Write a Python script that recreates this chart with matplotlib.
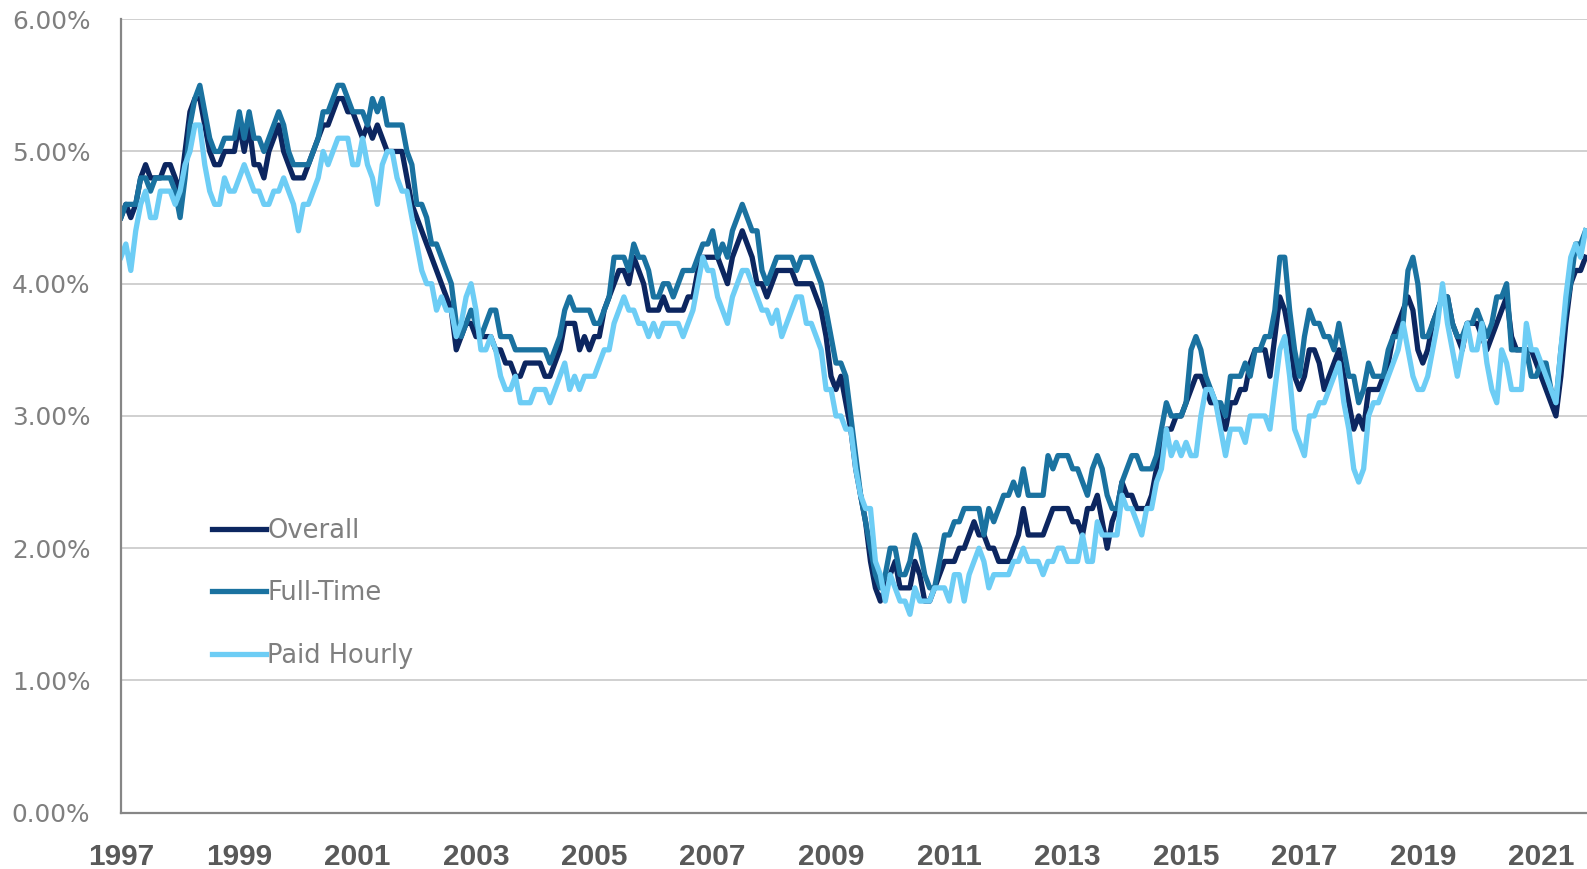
import matplotlib
matplotlib.use('Agg')
import matplotlib.pyplot as plt
import numpy as np
from matplotlib.ticker import PercentFormatter

# monthly 3-month moving average, Jan 1997 - Oct 2021 (percent)
overall = [
    4.5, 4.6, 4.5, 4.6, 4.8, 4.9, 4.8, 4.8, 4.8, 4.9, 4.9, 4.8,
    4.7, 5.0, 5.3, 5.4, 5.4, 5.2, 5.0, 4.9, 4.9, 5.0, 5.0, 5.0,
    5.2, 5.0, 5.2, 4.9, 4.9, 4.8, 5.0, 5.1, 5.2, 5.0, 4.9, 4.8,
    4.8, 4.8, 4.9, 5.0, 5.1, 5.2, 5.2, 5.3, 5.4, 5.4, 5.3, 5.3,
    5.2, 5.1, 5.2, 5.1, 5.2, 5.1, 5.0, 5.0, 5.0, 5.0, 4.8, 4.6,
    4.5, 4.4, 4.3, 4.2, 4.1, 4.0, 3.9, 3.8, 3.5, 3.6, 3.7, 3.7,
    3.6, 3.6, 3.6, 3.6, 3.5, 3.5, 3.4, 3.4, 3.3, 3.3, 3.4, 3.4,
    3.4, 3.4, 3.3, 3.3, 3.4, 3.5, 3.7, 3.7, 3.7, 3.5, 3.6, 3.5,
    3.6, 3.6, 3.8, 3.9, 4.0, 4.1, 4.1, 4.0, 4.2, 4.1, 4.0, 3.8,
    3.8, 3.8, 3.9, 3.8, 3.8, 3.8, 3.8, 3.9, 3.9, 4.1, 4.2, 4.2,
    4.2, 4.2, 4.1, 4.0, 4.2, 4.3, 4.4, 4.3, 4.2, 4.0, 4.0, 3.9,
    4.0, 4.1, 4.1, 4.1, 4.1, 4.0, 4.0, 4.0, 4.0, 3.9, 3.8, 3.6,
    3.3, 3.2, 3.3, 3.1, 2.9, 2.6, 2.4, 2.2, 1.9, 1.7, 1.6, 1.7,
    1.8, 1.9, 1.7, 1.7, 1.7, 1.9, 1.8, 1.6, 1.6, 1.7, 1.8, 1.9,
    1.9, 1.9, 2.0, 2.0, 2.1, 2.2, 2.1, 2.1, 2.0, 2.0, 1.9, 1.9,
    1.9, 2.0, 2.1, 2.3, 2.1, 2.1, 2.1, 2.1, 2.2, 2.3, 2.3, 2.3,
    2.3, 2.2, 2.2, 2.1, 2.3, 2.3, 2.4, 2.2, 2.0, 2.2, 2.3, 2.5,
    2.4, 2.4, 2.3, 2.3, 2.3, 2.4, 2.6, 2.8, 2.9, 2.9, 3.0, 3.0,
    3.1, 3.2, 3.3, 3.3, 3.2, 3.1, 3.1, 3.0, 2.9, 3.1, 3.1, 3.2,
    3.2, 3.4, 3.5, 3.5, 3.5, 3.3, 3.6, 3.9, 3.8, 3.6, 3.3, 3.2,
    3.3, 3.5, 3.5, 3.4, 3.2, 3.3, 3.4, 3.5, 3.3, 3.1, 2.9, 3.0,
    2.9, 3.2, 3.2, 3.2, 3.3, 3.4, 3.6, 3.7, 3.8, 3.9, 3.8, 3.5,
    3.4, 3.5, 3.7, 3.8, 3.9, 3.9, 3.7, 3.6, 3.5, 3.7, 3.7, 3.7,
    3.6, 3.5, 3.6, 3.7, 3.8, 3.9, 3.6, 3.5, 3.5, 3.5, 3.5, 3.4,
    3.3, 3.2, 3.1, 3.0, 3.3, 3.7, 4.0, 4.1, 4.1, 4.2,
]

full_time = [
    4.5, 4.6, 4.6, 4.6, 4.8, 4.8, 4.7, 4.8, 4.8, 4.8, 4.8, 4.7,
    4.5, 4.8, 5.2, 5.4, 5.5, 5.3, 5.1, 5.0, 5.0, 5.1, 5.1, 5.1,
    5.3, 5.1, 5.3, 5.1, 5.1, 5.0, 5.1, 5.2, 5.3, 5.2, 5.0, 4.9,
    4.9, 4.9, 4.9, 5.0, 5.1, 5.3, 5.3, 5.4, 5.5, 5.5, 5.4, 5.3,
    5.3, 5.3, 5.2, 5.4, 5.3, 5.4, 5.2, 5.2, 5.2, 5.2, 5.0, 4.9,
    4.6, 4.6, 4.5, 4.3, 4.3, 4.2, 4.1, 4.0, 3.7, 3.6, 3.7, 3.8,
    3.7, 3.6, 3.7, 3.8, 3.8, 3.6, 3.6, 3.6, 3.5, 3.5, 3.5, 3.5,
    3.5, 3.5, 3.5, 3.4, 3.5, 3.6, 3.8, 3.9, 3.8, 3.8, 3.8, 3.8,
    3.7, 3.7, 3.8, 3.9, 4.2, 4.2, 4.2, 4.1, 4.3, 4.2, 4.2, 4.1,
    3.9, 3.9, 4.0, 4.0, 3.9, 4.0, 4.1, 4.1, 4.1, 4.2, 4.3, 4.3,
    4.4, 4.2, 4.3, 4.2, 4.4, 4.5, 4.6, 4.5, 4.4, 4.4, 4.1, 4.0,
    4.1, 4.2, 4.2, 4.2, 4.2, 4.1, 4.2, 4.2, 4.2, 4.1, 4.0, 3.8,
    3.6, 3.4, 3.4, 3.3, 3.0, 2.7, 2.4, 2.2, 2.0, 1.8, 1.7, 1.8,
    2.0, 2.0, 1.8, 1.8, 1.9, 2.1, 2.0, 1.8, 1.7, 1.7, 1.9, 2.1,
    2.1, 2.2, 2.2, 2.3, 2.3, 2.3, 2.3, 2.1, 2.3, 2.2, 2.3, 2.4,
    2.4, 2.5, 2.4, 2.6, 2.4, 2.4, 2.4, 2.4, 2.7, 2.6, 2.7, 2.7,
    2.7, 2.6, 2.6, 2.5, 2.4, 2.6, 2.7, 2.6, 2.4, 2.3, 2.3, 2.5,
    2.6, 2.7, 2.7, 2.6, 2.6, 2.6, 2.7, 2.9, 3.1, 3.0, 3.0, 3.0,
    3.1, 3.5, 3.6, 3.5, 3.3, 3.2, 3.1, 3.1, 3.0, 3.3, 3.3, 3.3,
    3.4, 3.3, 3.5, 3.5, 3.6, 3.6, 3.8, 4.2, 4.2, 3.8, 3.5, 3.3,
    3.6, 3.8, 3.7, 3.7, 3.6, 3.6, 3.5, 3.7, 3.5, 3.3, 3.3, 3.1,
    3.2, 3.4, 3.3, 3.3, 3.3, 3.5, 3.6, 3.6, 3.7, 4.1, 4.2, 4.0,
    3.6, 3.6, 3.7, 3.8, 3.9, 3.9, 3.7, 3.6, 3.6, 3.7, 3.7, 3.8,
    3.7, 3.6, 3.7, 3.9, 3.9, 4.0, 3.5, 3.5, 3.5, 3.5, 3.3, 3.3,
    3.4, 3.4, 3.2, 3.1, 3.5, 3.8, 4.0, 4.3, 4.3, 4.4,
]

paid_hourly = [
    4.2, 4.3, 4.1, 4.4, 4.6, 4.7, 4.5, 4.5, 4.7, 4.7, 4.7, 4.6,
    4.7, 4.9, 5.0, 5.2, 5.2, 4.9, 4.7, 4.6, 4.6, 4.8, 4.7, 4.7,
    4.8, 4.9, 4.8, 4.7, 4.7, 4.6, 4.6, 4.7, 4.7, 4.8, 4.7, 4.6,
    4.4, 4.6, 4.6, 4.7, 4.8, 5.0, 4.9, 5.0, 5.1, 5.1, 5.1, 4.9,
    4.9, 5.1, 4.9, 4.8, 4.6, 4.9, 5.0, 5.0, 4.8, 4.7, 4.7, 4.5,
    4.3, 4.1, 4.0, 4.0, 3.8, 3.9, 3.8, 3.8, 3.6, 3.7, 3.9, 4.0,
    3.8, 3.5, 3.5, 3.6, 3.5, 3.3, 3.2, 3.2, 3.3, 3.1, 3.1, 3.1,
    3.2, 3.2, 3.2, 3.1, 3.2, 3.3, 3.4, 3.2, 3.3, 3.2, 3.3, 3.3,
    3.3, 3.4, 3.5, 3.5, 3.7, 3.8, 3.9, 3.8, 3.8, 3.7, 3.7, 3.6,
    3.7, 3.6, 3.7, 3.7, 3.7, 3.7, 3.6, 3.7, 3.8, 4.0, 4.2, 4.1,
    4.1, 3.9, 3.8, 3.7, 3.9, 4.0, 4.1, 4.1, 4.0, 3.9, 3.8, 3.8,
    3.7, 3.8, 3.6, 3.7, 3.8, 3.9, 3.9, 3.7, 3.7, 3.6, 3.5, 3.2,
    3.2, 3.0, 3.0, 2.9, 2.9, 2.6, 2.4, 2.3, 2.3, 1.9, 1.8, 1.6,
    1.8, 1.7, 1.6, 1.6, 1.5, 1.7, 1.6, 1.6, 1.6, 1.7, 1.7, 1.7,
    1.6, 1.8, 1.8, 1.6, 1.8, 1.9, 2.0, 1.9, 1.7, 1.8, 1.8, 1.8,
    1.8, 1.9, 1.9, 2.0, 1.9, 1.9, 1.9, 1.8, 1.9, 1.9, 2.0, 2.0,
    1.9, 1.9, 1.9, 2.1, 1.9, 1.9, 2.2, 2.1, 2.1, 2.1, 2.1, 2.4,
    2.3, 2.3, 2.2, 2.1, 2.3, 2.3, 2.5, 2.6, 2.9, 2.7, 2.8, 2.7,
    2.8, 2.7, 2.7, 3.0, 3.2, 3.2, 3.1, 2.9, 2.7, 2.9, 2.9, 2.9,
    2.8, 3.0, 3.0, 3.0, 3.0, 2.9, 3.2, 3.5, 3.6, 3.3, 2.9, 2.8,
    2.7, 3.0, 3.0, 3.1, 3.1, 3.2, 3.3, 3.4, 3.1, 2.9, 2.6, 2.5,
    2.6, 3.0, 3.1, 3.1, 3.2, 3.3, 3.4, 3.5, 3.7, 3.5, 3.3, 3.2,
    3.2, 3.3, 3.5, 3.7, 4.0, 3.7, 3.5, 3.3, 3.5, 3.7, 3.5, 3.5,
    3.7, 3.4, 3.2, 3.1, 3.5, 3.4, 3.2, 3.2, 3.2, 3.7, 3.5, 3.5,
    3.4, 3.3, 3.2, 3.1, 3.5, 3.9, 4.2, 4.3, 4.2, 4.4,
]

years = ['1997', '1999', '2001', '2003', '2005', '2007', '2009',
         '2011', '2013', '2015', '2017', '2019', '2021']

fig = plt.figure(figsize=(15.87, 8.69), dpi=100)
ax = fig.add_axes([0.0762, 0.0648, 0.9238, 0.9131])

x = np.arange(len(overall))
ax.plot(x, overall, color='#0c2660', lw=3.8, label='Overall', solid_joinstyle='round')
ax.plot(x, full_time, color='#1a72a0', lw=3.8, label='Full-Time', solid_joinstyle='round')
ax.plot(x, paid_hourly, color='#6dcdf5', lw=3.8, label='Paid Hourly', solid_joinstyle='round')

ax.set_xlim(0, 297.3)
ax.set_ylim(0, 6)
ax.set_yticks(range(0, 7))
ax.yaxis.set_major_formatter(PercentFormatter(decimals=2))
ax.set_xticks(range(0, 12 * 2 * len(years), 24))
ax.set_xticklabels(years)

ax.grid(axis='y', color='#d0d0d0', lw=1.4)
ax.set_axisbelow(True)
for s in ['top', 'right']:
    ax.spines[s].set_visible(False)
for s in ['left', 'bottom']:
    ax.spines[s].set_color('#868686')
    ax.spines[s].set_linewidth(1.6)

ax.tick_params(axis='y', length=0, pad=22, labelsize=17.8, labelcolor='#7f7f7f')
ax.tick_params(axis='x', length=0, pad=22, labelcolor='#595959')
for lab in ax.get_xticklabels():
    lab.set_family(['Liberation Sans', 'DejaVu Sans'])
    lab.set_fontweight('bold')
    lab.set_fontsize(21.5)

leg = ax.legend(loc='upper left', bbox_to_anchor=(0.062, 0.372), frameon=False,
                fontsize=18.5, handlelength=2.1, handletextpad=0.05,
                labelspacing=1.43, borderpad=0, borderaxespad=0)
for t in leg.get_texts():
    t.set_color('#7f7f7f')

fig.savefig('out.png', dpi=100)
